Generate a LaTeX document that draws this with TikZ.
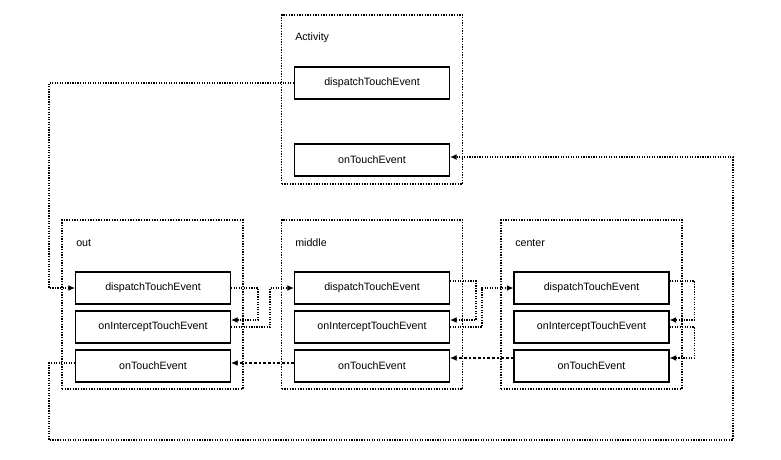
\documentclass[tikz,border=0pt]{standalone}
\usepackage{fontspec}
\setmainfont{Liberation Sans}
\usetikzlibrary{arrows.meta}
\begin{document}
\begin{tikzpicture}[x=0.75pt,y=-0.75pt,font=\fontsize{8}{10}\selectfont,
    frame/.style={draw,densely dotted,line width=1pt,minimum width=135.75pt,minimum height=126.75pt},
    method/.style={draw,line width=0.8pt,minimum width=116.25pt,minimum height=24pt},
    title/.style={anchor=west,inner sep=0pt},
    flow/.style={densely dotted,line width=0.9pt,-{Latex[length=5pt,width=4.5pt]}},
    back/.style={dash pattern=on 2pt off 1.5pt,line width=0.8pt,-{Latex[length=5pt,width=4.5pt]}}]
  \useasboundingbox (0,0) rectangle (781,460);
  % Activity
  \node[frame] (act) at (372,99.5) {};
  \node[title] (actname) at (295,38) {Activity};
  \node[method] (actd) at (372,83) {dispatchTouchEvent};
  \node[method] (actt) at (372,160) {onTouchEvent};
  % out
  \node[frame] (out) at (152.5,304.5) {};
  \node[title] (outname) at (76,243) {out};
  \node[method] (outd) at (153,288) {dispatchTouchEvent};
  \node[method] (outi) at (153,327) {onInterceptTouchEvent};
  \node[method] (outt) at (153,366) {onTouchEvent};
  % middle
  \node[frame] (mid) at (372,304.5) {};
  \node[title] (midname) at (295,243) {middle};
  \node[method] (midd) at (372,288) {dispatchTouchEvent};
  \node[method] (midi) at (372,327) {onInterceptTouchEvent};
  \node[method] (midt) at (372,366) {onTouchEvent};
  % center
  \node[frame] (cen) at (591.5,304.5) {};
  \node[title] (cenname) at (515,243) {center};
  \node[method] (cend) at (591.5,288) {dispatchTouchEvent};
  \node[method] (ceni) at (591.5,327) {onInterceptTouchEvent};
  \node[method] (cent) at (591.5,366) {onTouchEvent};
  \coordinate (corner) at (733,440);
  % dispatch down the chain
  \draw[flow] (actd.west) -| ([xshift=-19.5pt]outd.west) -- (outd.west);
  \draw[flow] (outd.east) -- ++(27,0) |- ([yshift=5.25pt]outi.east);
  \draw[flow] (outi.east) -- ++(39,0) |- (midd.west);
  \draw[flow] ([yshift=5.25pt]midd.east) -- ++(26,0) |- ([yshift=5.25pt]midi.east);
  \draw[flow] (midi.east) -- ++(32,0) |- (cend.west);
  \draw[flow] ([yshift=5.25pt]cend.east) -- ++(25,0) |- ([yshift=5.25pt]ceni.east);
  \draw[flow] (ceni.east) -- ++(25,0) |- ([yshift=6pt]cent.east);
  % back up the chain
  \draw[back] ([yshift=6pt]cent.west) -- ([yshift=6pt]midt.east);
  \draw[back] ([yshift=2.25pt]midt.west) -- ([yshift=2.25pt]outt.east);
  \draw[flow] ([yshift=2.25pt]outt.west) -- ++(-26,0) |- (corner) |- ([yshift=2.25pt]actt.east);
\end{tikzpicture}
\end{document}
